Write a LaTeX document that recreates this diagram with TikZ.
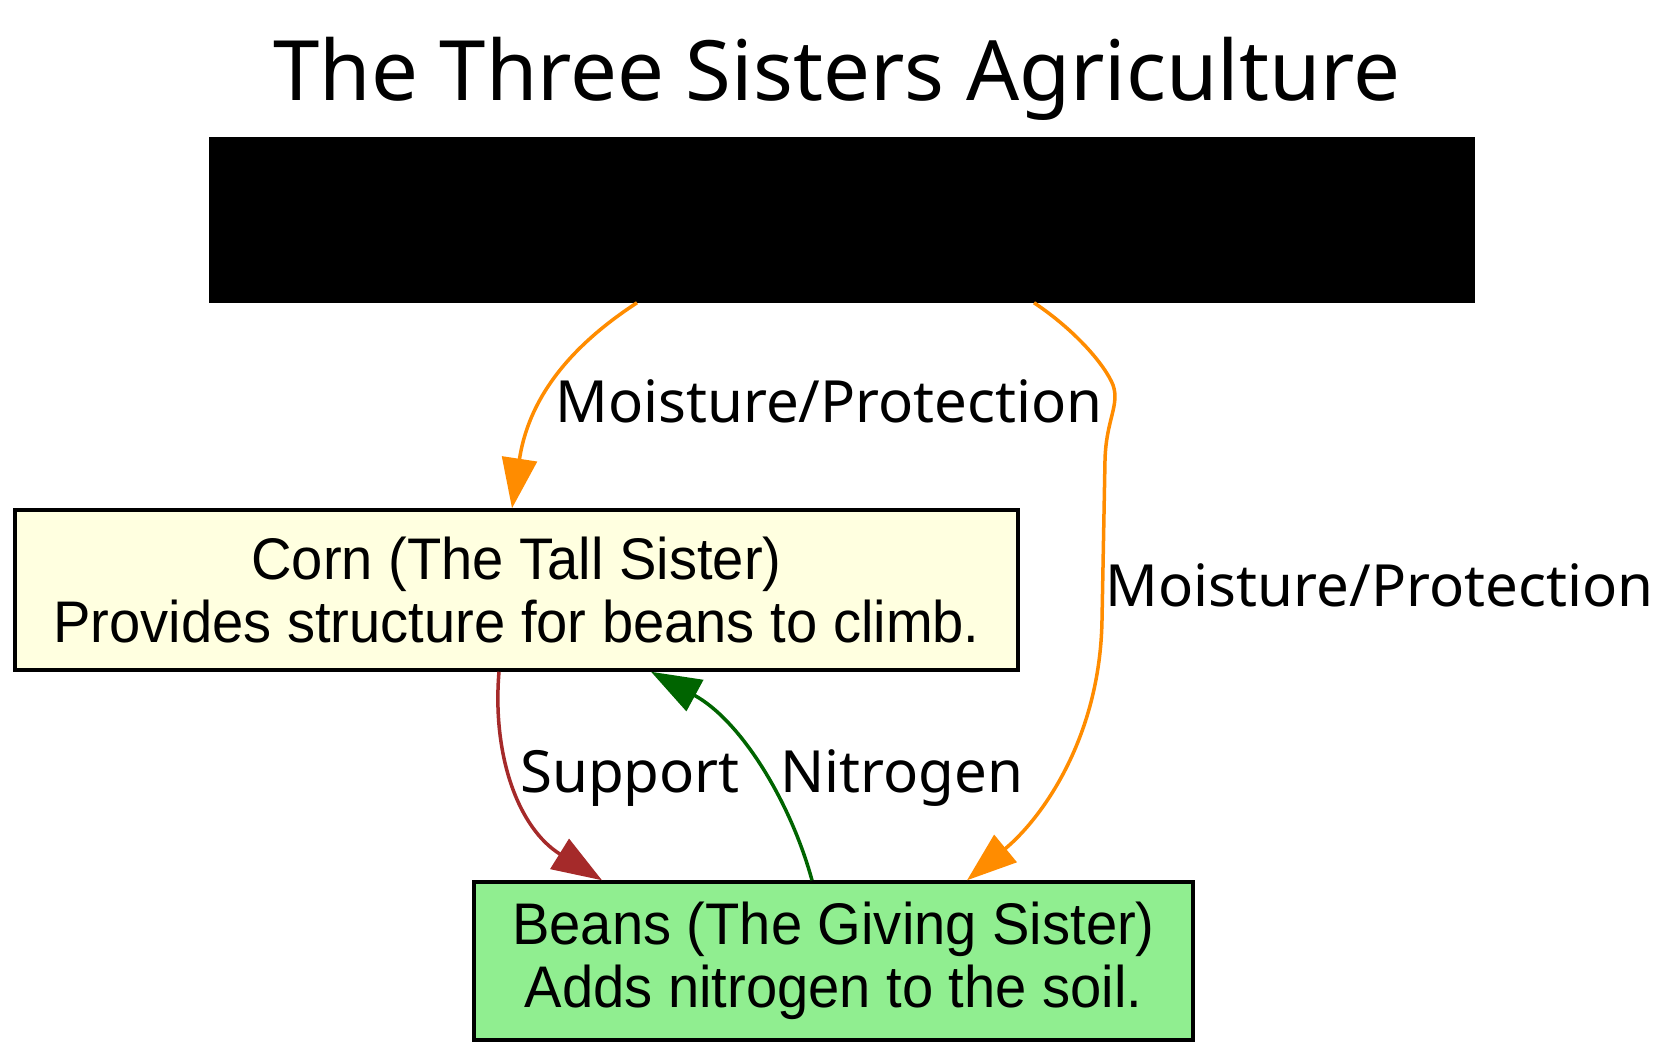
\documentclass[tikz,border=0pt]{standalone}
\usepackage{fontspec}
\setmainfont{Liberation Sans}
\newfontfamily\nodefont[FakeStretch=0.956]{Liberation Sans}
\newfontfamily\notosans{Noto Sans}
\usetikzlibrary{arrows.meta,calc}
\definecolor{dkorange}{HTML}{FF8C00}
\definecolor{brownc}{HTML}{A52A2A}
\definecolor{dkgreen}{HTML}{006400}
\definecolor{ltyellow}{HTML}{FFFFE0}
\definecolor{ltgreen}{HTML}{90EE90}
\begin{document}
\begin{tikzpicture}[x=1pt,y=-1pt,
  box/.style={draw=black, line width=3.5pt, rectangle, inner sep=0pt, align=center,
    font=\nodefont\fontsize{58.7}{63}\selectfont},
  lbl/.style={anchor=base, inner sep=0pt, font=\notosans\fontsize{58.2}{70}\selectfont},
  conn/.style={line width=3.5pt, -{Triangle[length=50pt,width=35pt]}}]
\useasboundingbox (0,0) rectangle (1675,1058);
\fill[white] (0,0) rectangle (1675,1058);

\node[anchor=base, inner sep=0pt, font=\notosans\fontsize{83.3}{90}\selectfont] (title) at (837,100) {The Three Sisters Agriculture};

\node[box, fill=black, minimum width=1262pt, minimum height=162pt] (squash) at (842,220) {};
\node[box, fill=ltyellow, minimum width=1003pt, minimum height=160pt] (corn) at (516.5,590)
  {Corn (The Tall Sister)\\Provides structure for beans to climb.};
\node[box, fill=ltgreen, minimum width=719pt, minimum height=158pt] (beans) at (833.5,961)
  {Beans (The Giving Sister)\\Adds nitrogen to the soil.};

% squash -> corn
\draw[conn, dkorange] ($(squash.south)+(-205,0)$) .. controls (580,340) and (530,390) .. ($(corn.north)+(-4.5,0)$);
\node[lbl] (l1) at (829,422) {Moisture/Protection};

% squash -> beans
\draw[conn, dkorange] ($(squash.south)+(192,0)$) .. controls (1075,330) and (1105,365) .. (1113,385)
  .. controls (1120,405) and (1106,420) .. (1105,460) -- (1102,620)
  .. controls (1100,740) and (1040,820) .. ($(beans.north)+(133.5,0)$);
\node[lbl] (l2) at (1379.5,606) {Moisture/Protection};

% corn -> beans
\draw[conn, brownc] ($(corn.south)+(-17.5,0)$) .. controls (492,755) and (518,828) .. ($(beans.north)+(-231.5,0)$);
\node[lbl] (l3) at (630,792) {Support};

% beans -> corn
\draw[conn, dkgreen] ($(beans.north)+(-21.5,0)$) .. controls (790,800) and (740,720) .. ($(corn.south)+(134.5,0)$);
\node[lbl] (l4) at (902,792) {Nitrogen};
\end{tikzpicture}
\end{document}
